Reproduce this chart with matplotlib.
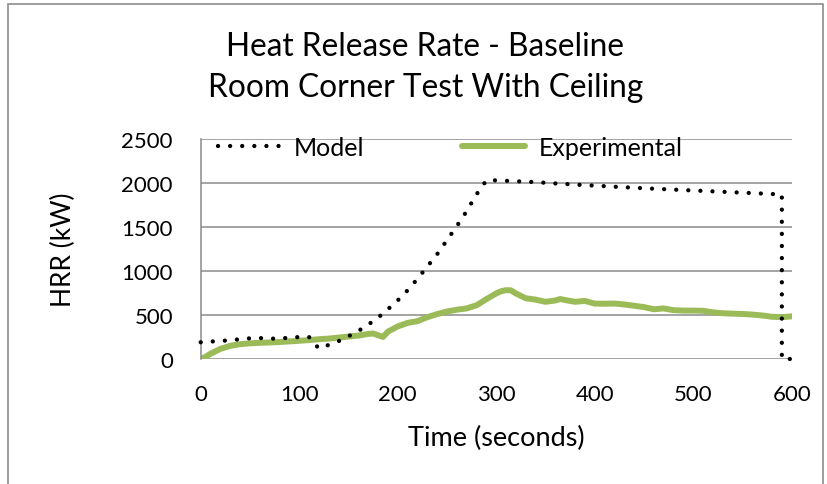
import matplotlib
matplotlib.use("Agg")
import matplotlib.pyplot as plt
from matplotlib.patches import Rectangle

plt.rcParams['font.family'] = ['Lato', 'DejaVu Sans']

# Model curve (time in s, HRR in kW)
model_t = [0, 10, 20, 30, 40, 50, 60, 70, 80, 90, 100, 110, 115, 120, 130, 140,
           150, 160, 170, 180, 190, 200, 210, 220, 230, 240, 250, 260, 270, 280,
           290, 300, 320, 340, 360, 400, 450, 500, 550, 590, 590, 600]
model_hrr = [190, 198, 205, 213, 225, 235, 238, 230, 235, 240, 250, 250, 180, 120,
             160, 203, 258, 318, 390, 470, 565, 665, 780, 910, 1050, 1190, 1350,
             1510, 1680, 1870, 2030, 2030, 2020, 2010, 1995, 1970, 1940, 1915,
             1890, 1870, 0, 0]

# Experimental curve
exp_t = [0, 5, 10, 20, 30, 40, 50, 60, 70, 80, 90, 100, 110, 120, 130, 140, 150,
         160, 170, 175, 180, 185, 190, 200, 210, 220, 230, 240, 250, 260, 270,
         280, 290, 300, 305, 310, 315, 320, 330, 340, 350, 360, 365, 370, 380,
         390, 400, 410, 420, 430, 440, 450, 460, 470, 480, 490, 500, 510, 520,
         530, 540, 550, 560, 570, 580, 590, 600]
exp_hrr = [0, 25, 60, 115, 150, 168, 178, 184, 188, 193, 200, 207, 215, 225, 232,
           243, 255, 266, 285, 290, 270, 250, 310, 370, 410, 430, 475, 510, 540,
           560, 575, 610, 680, 745, 770, 782, 780, 745, 690, 675, 650, 665, 682,
           670, 650, 660, 630, 628, 630, 620, 605, 590, 565, 575, 555, 550, 550,
           548, 530, 520, 515, 512, 505, 495, 480, 475, 485]

x_ticks = [0, 100, 200, 300, 400, 500, 600]
y_ticks = [0, 500, 1000, 1500, 2000, 2500]

W, H = 828, 485
fig = plt.figure(figsize=(W / 100, H / 100), dpi=100)

# chart border like the spreadsheet frame
fig.patches.append(Rectangle((8 / W, -0.05), (823 - 8) / W, 1.05 - 5 / H,
                             transform=fig.transFigure, fill=False,
                             edgecolor='#8c8c8c', linewidth=1.2))

ax = fig.add_axes([200.7 / W, 1 - 360 / H, (791.7 - 200.7) / W, 220 / H])

ax.plot(model_t, model_hrr, color='black', linewidth=3.1,
        linestyle=(0, (0.01, 2.8)), dash_capstyle='round', label='Model',
        clip_on=False, zorder=3)
ax.plot(exp_t, exp_hrr, color='#9bbb59', linewidth=4.3, label='Experimental',
        solid_capstyle='round', zorder=2)

ax.set_xlim(0, 600)
ax.set_ylim(0, 2500)
ax.set_xticks(x_ticks)
ax.set_yticks(y_ticks)
ax.tick_params(axis='both', length=0, labelsize=16, colors='black')
ax.tick_params(axis='x', pad=18)
ax.tick_params(axis='y', pad=20)
ax.grid(axis='y', color='#8a8a8a', linewidth=1.1)
ax.set_axisbelow(True)
for side in ['top', 'right', 'bottom']:
    ax.spines[side].set_visible(False)
ax.spines['left'].set_color('#8a8a8a')
ax.spines['left'].set_linewidth(1.1)

fig.text(496 / W, 1 - 438 / H, 'Time (seconds)', ha='center', va='center', fontsize=19.5)
fig.text(63 / W, 1 - 250 / H, 'HRR (kW)', ha='center', va='center',
         rotation=90, fontsize=19)
fig.text(425 / W, 1 - 47 / H, 'Heat Release Rate - Baseline', ha='center',
         va='center', fontsize=22.8)
fig.text(426 / W, 1 - 88 / H, 'Room Corner Test With Ceiling', ha='center',
         va='center', fontsize=22.8)

ax.legend(loc='center left', bbox_to_anchor=(218 / W, 1 - 148 / H),
          bbox_transform=fig.transFigure, ncol=2, frameon=False, fontsize=18,
          handlelength=2.5, handletextpad=0.55, columnspacing=3.9,
          borderaxespad=0, borderpad=0)

fig.savefig('out.png', dpi=100)
